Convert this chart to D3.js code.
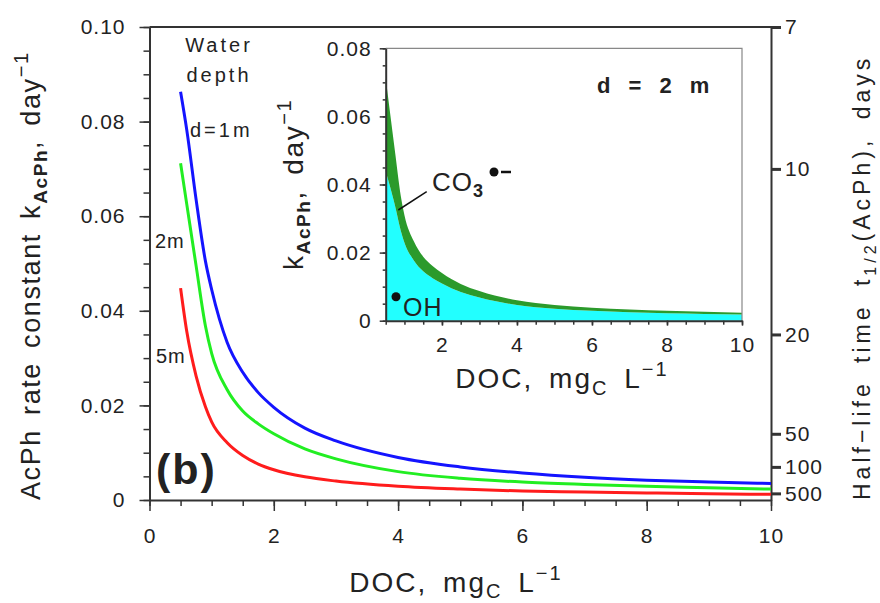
<!DOCTYPE html>
<html lang="en">
<head>
<meta charset="UTF-8">
<title>AcPh rate constant vs DOC</title>
<script src="https://cdn.jsdelivr.net/npm/d3@7"></script>
<style>
  body { margin: 0; background: #fff; }
  svg text { font-family: "Liberation Sans", Arial, sans-serif; fill: #222; }
  .tick text { font-size: 21px; letter-spacing: 1px; }
  .tick line { stroke: #333; stroke-width: 1.5px; }
  .domain { stroke: #333; stroke-width: 2px; }
  .title { font-size: 28px; letter-spacing: 2px; word-spacing: 6px; }
  .note { font-size: 20px; letter-spacing: 3px; }
  .curve { fill: none; stroke-width: 3px; }
</style>
</head>
<body>
<svg width="880" height="603"></svg>
<script>
// DOC grid (mg C / L) and rate constants (day^-1)
const doc       = [0.5, 0.6, 0.75, 0.9, 1, 1.25, 1.5, 1.75, 2, 2.5, 3, 4, 5, 6, 7, 8, 9, 10];
const kDepth1m  = [0.0863, 0.0782, 0.0635, 0.0505, 0.0445, 0.0333, 0.0270, 0.0227, 0.0196, 0.0152, 0.0125, 0.0090, 0.0070, 0.0057, 0.0048, 0.0042, 0.0038, 0.0035];
const kDepth2m  = [0.0712, 0.0625, 0.0495, 0.0368, 0.0310, 0.0233, 0.0188, 0.0161, 0.0140, 0.0108, 0.0087, 0.0060, 0.0046, 0.0038, 0.0033, 0.0029, 0.0026, 0.0023];
const kDepth5m  = [0.0448, 0.0356, 0.0262, 0.0197, 0.0165, 0.0121, 0.0094, 0.0076, 0.0064, 0.0049, 0.0040, 0.0029, 0.0023, 0.0019, 0.0017, 0.0015, 0.0013, 0.0012];
// inset, d = 2 m : contribution of OH and CO3
const kOH2m     = [0.0438, 0.0400, 0.0337, 0.0265, 0.0229, 0.0177, 0.0145, 0.0125, 0.0109, 0.0084, 0.0068, 0.0046, 0.0035, 0.0029, 0.0025, 0.0022, 0.0020, 0.0018];
const kCO3_2m   = [0.0274, 0.0225, 0.0158, 0.0103, 0.0081, 0.0056, 0.0043, 0.0036, 0.0031, 0.0024, 0.0019, 0.0014, 0.0011, 0.0009, 0.0008, 0.0007, 0.0006, 0.0005];

const xTicks = [0, 2, 4, 6, 8, 10];
const yTicks = [0, 0.02, 0.04, 0.06, 0.08, 0.10];
const halfLifeTicks = [7, 10, 20, 50, 100, 500];
const insetXTicks = [2, 4, 6, 8, 10];
const insetYTicks = [0, 0.02, 0.04, 0.06, 0.08];
const depthColors = ["#1414ff", "#22ee22", "#ff1c1c"];

const svg = d3.select("svg");
const fmtK = d => d === 0 ? "0" : d3.format(".2f")(d);

// scales of main plot
const x = d3.scaleLinear().domain([0, 10]).range([149.5, 771]);
const y = d3.scaleLinear().domain([0, 0.1]).range([500, 27]);

function addAxis(axis, tx, ty, keepDomain) {
  const g = svg.append("g").attr("transform", `translate(${tx},${ty})`)
    .attr("font-size", null).attr("font-family", null).call(axis);
  if (!keepDomain) g.select(".domain").remove();
  return g;
}

// minor ticks
addAxis(d3.axisLeft(y).tickValues(d3.range(0, 0.1001, 0.005)).tickSize(6).tickFormat(""), x(0), 0);
addAxis(d3.axisBottom(x).tickValues(d3.range(0, 10.01, 0.5)).tickSize(6).tickFormat(""), 0, y(0));
// major ticks
addAxis(d3.axisLeft(y).tickValues(yTicks).tickSize(10).tickSizeOuter(0).tickPadding(14).tickFormat(fmtK), x(0), 0, true);
addAxis(d3.axisBottom(x).tickValues(xTicks).tickSize(11).tickSizeOuter(0).tickPadding(17), 0, y(0), true);
// half-life axis on the right: k = 0.7 / t
const right = addAxis(d3.axisRight(y).tickValues(halfLifeTicks.map(t => 0.7 / t)).tickSize(10)
  .tickSizeOuter(0).tickPadding(4).tickFormat((d, i) => halfLifeTicks[i]), x(10), 0, true);
right.selectAll(".tick line").style("stroke-width", "3px");
svg.append("line").attr("x1", x(0)).attr("x2", x(10)).attr("y1", y(0.1)).attr("y2", y(0.1))
  .attr("stroke", "#333").attr("stroke-width", 2);

// curves
const line = d3.line().x((d, i) => x(doc[i])).y(d => y(d)).curve(d3.curveMonotoneX);
[kDepth1m, kDepth2m, kDepth5m].forEach((s, i) => {
  svg.append("path").datum(s).attr("class", "curve").attr("stroke", depthColors[i]).attr("d", line);
});

// annotations
svg.append("text").attr("class", "note").attr("x", 219).attr("y", 52).attr("text-anchor", "middle").text("Water");
svg.append("text").attr("class", "note").attr("x", 219).attr("y", 82).attr("text-anchor", "middle").text("depth");
svg.append("text").attr("class", "note").attr("x", 190).attr("y", 137).text("d=1m");
svg.append("text").attr("class", "note").attr("x", 155).attr("y", 248).style("letter-spacing", "1px").text("2m");
svg.append("text").attr("class", "note").attr("x", 156).attr("y", 363).style("letter-spacing", "1px").text("5m");
svg.append("text").attr("x", 156).attr("y", 484).attr("font-size", 43).attr("font-weight", "bold")
  .attr("letter-spacing", 2).text("(b)");

// axis titles
const xt = svg.append("text").attr("class", "title").attr("x", 456).attr("y", 592).attr("text-anchor", "middle");
xt.append("tspan").text("DOC, mg");
xt.append("tspan").attr("font-size", 20).attr("dy", 6).text("C");
xt.append("tspan").attr("dy", -6).text(" L");
xt.append("tspan").attr("font-size", 20).attr("dy", -12).text("−1");

const lt = svg.append("text").attr("class", "title").attr("transform", "translate(40,500) rotate(-90)")
  .style("font-size", "27px").style("letter-spacing", "1.6px").style("word-spacing", "5px");
lt.append("tspan").text("AcPh rate constant k");
lt.append("tspan").attr("font-size", 19).attr("font-weight", "bold").attr("dy", 7).text("AcPh");
lt.append("tspan").attr("dy", -7).text(", day");
lt.append("tspan").attr("font-size", 20).attr("dy", -12).text("−1");

const rt = svg.append("text").attr("class", "title").attr("transform", "translate(870,500) rotate(-90)")
  .style("font-size", "23px").style("letter-spacing", "4px").style("word-spacing", "7px");
rt.append("tspan").text("Half−life time t");
rt.append("tspan").attr("font-size", 16).attr("dy", 6).text("1/2");
rt.append("tspan").attr("dy", -6).text("(AcPh), days");

// ---------- inset (d = 2 m) ----------
const xi = d3.scaleLinear().domain([0.5, 10]).range([385.7, 742]);
const yi = d3.scaleLinear().domain([0, 0.08]).range([320.7, 48.3]);

const areaOH = d3.area().x((d, i) => xi(doc[i])).y0(yi(0)).y1(d => yi(d)).curve(d3.curveMonotoneX);
const areaCO3 = d3.area().x((d, i) => xi(doc[i])).y0((d, i) => yi(kOH2m[i]))
  .y1((d, i) => yi(kOH2m[i] + d)).curve(d3.curveMonotoneX);
svg.append("path").datum(kOH2m).attr("fill", "#22ffff").attr("d", areaOH);
svg.append("path").datum(kCO3_2m).attr("fill", "#2b9a2b").attr("d", areaCO3);

svg.append("path").attr("fill", "none").attr("stroke", "#888").attr("stroke-width", 1.2)
  .attr("d", `M${xi(0.5)},${yi(0.08)}H${xi(10)}V${yi(0)}`);
addAxis(d3.axisLeft(yi).tickValues(d3.range(0, 0.0801, 0.005)).tickSize(3).tickFormat(""), xi(0.5), 0);
addAxis(d3.axisBottom(xi).tickValues(d3.range(0.5, 10.01, 0.5)).tickSize(4).tickFormat(""), 0, yi(0));
addAxis(d3.axisLeft(yi).tickValues(insetYTicks).tickSize(6).tickSizeOuter(0).tickPadding(8).tickFormat(fmtK), xi(0.5), 0, true);
addAxis(d3.axisBottom(xi).tickValues(insetXTicks).tickSize(5).tickSizeOuter(0).tickPadding(11), 0, yi(0), true);

svg.append("text").attr("x", 597).attr("y", 93).attr("font-size", 22).attr("font-weight", "bold")
  .attr("letter-spacing", 2).attr("word-spacing", 8).text("d = 2 m");

const co = svg.append("text").attr("x", 432).attr("y", 191).attr("font-size", 26).attr("letter-spacing", 1);
co.append("tspan").text("CO");
co.append("tspan").attr("font-size", 18).attr("font-weight", "bold").attr("dy", 6).text("3");
svg.append("circle").attr("cx", 494).attr("cy", 172).attr("r", 4.5).attr("fill", "#111");
svg.append("line").attr("x1", 501).attr("x2", 511).attr("y1", 172).attr("y2", 172).attr("stroke", "#111").attr("stroke-width", 2.5);
svg.append("line").attr("x1", 426.7).attr("y1", 191.7).attr("x2", 398.3).attr("y2", 210).attr("stroke", "#111").attr("stroke-width", 1.5);

svg.append("circle").attr("cx", 396).attr("cy", 296.7).attr("r", 4.5).attr("fill", "#111");
svg.append("text").attr("x", 403).attr("y", 316).attr("font-size", 25).attr("letter-spacing", 1).text("OH");

const ixt = svg.append("text").attr("class", "title").attr("x", 562).attr("y", 388).attr("text-anchor", "middle");
ixt.append("tspan").text("DOC, mg");
ixt.append("tspan").attr("font-size", 20).attr("dy", 7).text("C");
ixt.append("tspan").attr("dy", -7).text(" L");
ixt.append("tspan").attr("font-size", 20).attr("dy", -12).text("−1");

const iyt = svg.append("text").attr("class", "title").attr("transform", "translate(303,270) rotate(-90)")
  .style("letter-spacing", "1.6px");
iyt.append("tspan").text("k");
iyt.append("tspan").attr("font-size", 19).attr("font-weight", "bold").attr("dy", 7).text("AcPh");
iyt.append("tspan").attr("dy", -7).text(", day");
iyt.append("tspan").attr("font-size", 20).attr("dy", -12).text("−1");
</script>
</body>
</html>
